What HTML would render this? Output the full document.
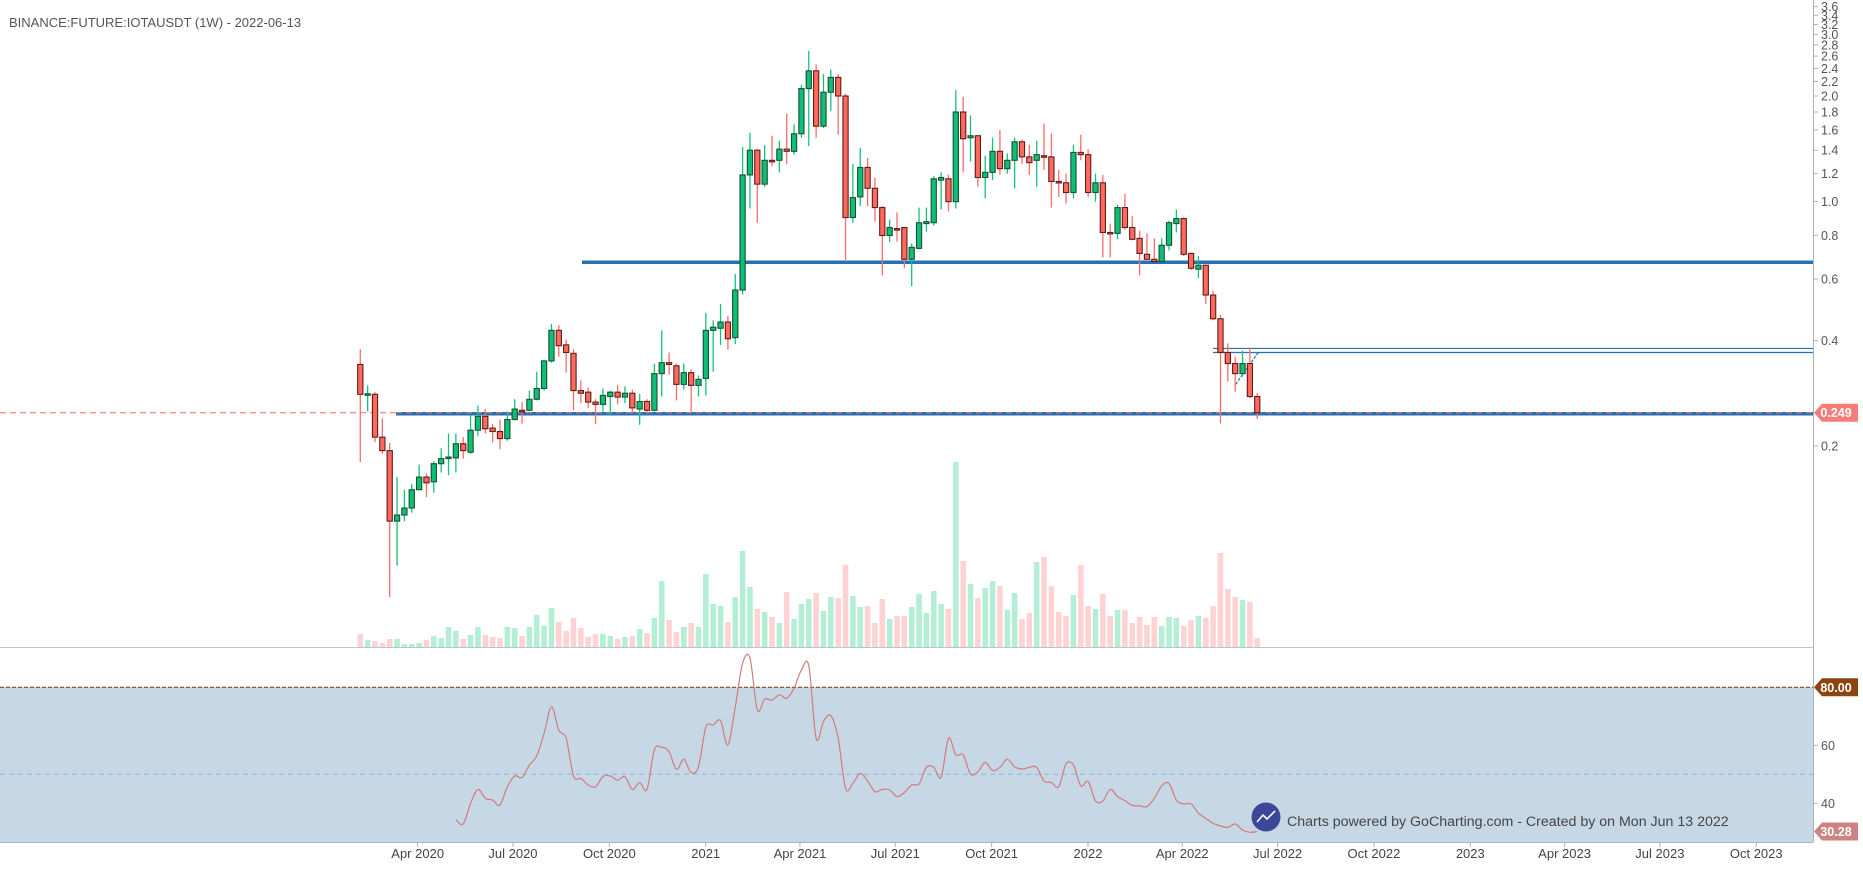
<!DOCTYPE html>
<html><head><meta charset="utf-8"><style>
html,body{margin:0;padding:0;background:#fff;}
svg{display:block;font-family:"Liberation Sans",sans-serif;}
</style></head><body>
<svg id="chart" width="1863" height="876" viewBox="0 0 1863 876" xmlns="http://www.w3.org/2000/svg">
<rect x="0" y="0" width="1863" height="876" fill="#fff"/>
<text x="9" y="27" font-size="13" fill="#555">BINANCE:FUTURE:IOTAUSDT (1W) - 2022-06-13</text>
<rect x="0" y="687" width="1813" height="155" fill="#c6d7e6"/>
<g id="grid"></g>
<g id="vol"></g>
<g id="lines"></g>
<g id="candles"></g>
<g id="rsi"></g>
<g id="axes"></g>
</svg>
<script>
const opens=[.342,.280,.281,.212,.194,.122,.127,.133,.150,.163,
.158,.178,.185,.185,.203,.192,.222,.243,.225,.220,
.210,.238,.253,.253,.272,.292,.350,.428,.389,.368,
.288,.285,.267,.263,.277,.285,.276,.283,.255,.268,
.253,.322,.346,.339,.300,.324,.298,.312,.428,.434,
.452,.408,.558,1.19,1.40,1.12,1.31,1.31,1.41,1.39,
1.56,2.10,2.36,1.64,2.05,2.26,2.00,.899,1.03,1.25,
1.09,.960,.799,.836,.842,.683,.734,.864,.869,1.15,
1.16,.998,1.80,1.52,1.54,1.17,1.21,1.39,1.24,1.31,
1.48,1.34,1.31,1.35,1.34,1.14,1.13,1.06,1.38,1.36,
1.06,1.13,.815,.810,.960,.842,.784,.706,.683,.673,
.749,.864,.893,.710,.640,.657,.540,.462,.370,.344,
.322,.344,.277];
const highs=[.378,.298,.285,.240,.204,.163,.150,.156,.177,.167,
.181,.197,.217,.217,.212,.245,.261,.255,.231,.238,
.251,.272,.267,.288,.326,.352,.446,.443,.403,.378,
.308,.294,.272,.292,.288,.298,.296,.290,.281,.272,
.344,.428,.370,.344,.344,.331,.318,.480,.457,.509,
.471,.620,1.43,1.57,1.41,1.45,1.54,1.49,1.78,1.66,
2.15,2.69,2.46,2.31,2.38,2.31,2.03,1.28,1.42,1.33,
1.17,.970,.887,.929,.842,.758,.960,.960,1.18,1.21,
1.19,2.08,1.99,1.76,1.54,1.35,1.52,1.60,1.37,1.52,
1.50,1.45,1.49,1.67,1.56,1.23,1.20,1.45,1.55,1.41,
1.20,1.19,.864,.979,1.05,.910,.824,.810,.784,.784,
.880,.948,.899,.714,.697,.657,.555,.474,.393,.360,
.374,.382,.283];
const lows=[.180,.251,.205,.190,.074,.091,.122,.129,.150,.143,
.147,.168,.165,.168,.184,.190,.214,.217,.205,.196,
.207,.237,.232,.251,.270,.288,.346,.360,.324,.253,
.265,.257,.231,.251,.245,.263,.265,.248,.230,.248,
.251,.277,.320,.270,.290,.248,.277,.279,.326,.389,
.377,.391,.542,.954,.869,1.10,1.26,1.21,1.28,1.36,
1.52,1.44,1.52,1.62,1.81,1.55,.673,.869,.970,.970,
.875,.615,.764,.768,.644,.573,.729,.820,.853,.948,
.935,.954,1.21,1.30,1.10,1.02,1.15,1.19,1.20,1.09,
1.28,1.19,1.10,1.23,.960,1.03,.986,1.02,1.31,1.03,
.998,.692,.692,.779,.830,.774,.615,.683,.673,.673,
.724,.815,.697,.636,.603,.509,.457,.232,.306,.286,
.316,.274,.239];
const closes=[.281,.282,.212,.194,.122,.127,.133,.150,.163,.157,
.178,.184,.186,.203,.194,.222,.243,.224,.220,.210,
.238,.255,.251,.272,.292,.350,.428,.387,.370,.288,
.283,.267,.263,.279,.285,.276,.283,.257,.268,.253,
.322,.346,.342,.300,.324,.298,.310,.428,.437,.452,
.405,.558,1.19,1.40,1.12,1.31,1.30,1.41,1.39,1.56,
2.10,2.36,1.64,2.05,2.26,2.00,.899,1.025,1.25,1.09,
.960,.799,.842,.830,.683,.739,.869,.875,1.16,1.17,
.998,1.80,1.51,1.54,1.17,1.21,1.39,1.24,1.31,1.48,
1.34,1.29,1.36,1.34,1.14,1.13,1.06,1.38,1.36,1.06,
1.13,.815,.810,.960,.842,.779,.710,.683,.673,.749,
.869,.893,.706,.644,.657,.540,.462,.370,.344,.322,
.344,.277,.249];
const volumes=[13,7,6,4,8,8,3,3,4,7,11,9,20,16,8,12,20,12,10,9,
20,19,11,20,32,21,39,25,16,29,19,10,13,13,11,8,10,11,18,14,
29,66,27,15,20,24,20,73,43,41,25,50,96,60,38,35,30,24,55,28,
43,48,54,36,50,49,82,51,40,41,24,48,28,31,31,40,53,34,56,43,
38,185,86,63,49,59,66,61,37,54,28,34,85,90,61,35,31,52,82,41,
38,53,31,37,37,24,30,22,30,21,30,29,21,27,31,29,41,94,58,50,
47,45,9];
const rsiStart=13;
const rsiValues=[34.3,32.9,40,44.8,41.7,41.1,39.4,45.7,49.4,48.9,
53.2,56.3,64.1,73.3,65.2,62.4,49.4,48.6,46.3,45.7,
49.2,49.4,48,49.2,44.8,47.1,44.8,58.4,59.3,57.8,
51.7,55.2,50.6,52.6,66.2,67,68.5,60.1,73.3,88.3,
90,72.2,75.9,75.6,77.4,76.2,79.7,86,87.4,62.4,
68.2,70.2,62.4,45.2,46.9,50.3,47.7,44,44.8,44.6,
42.3,43.7,46.3,46.7,52.4,52.4,49,62.4,56.7,56.7,
50.1,50.9,54.1,51.3,52.4,55.2,52.6,51.8,52.4,52.4,
47.7,47.2,45.7,53.6,53.2,46,47.5,40.8,40.8,44.8,
42.3,40.9,39.3,39.1,38.9,41.7,46,46.9,41.1,39.8,
39.8,36.6,34.8,33.1,32.2,31.7,32.9,30.8,30.0,30.28];
const priceTicks=[0.2,0.4,0.6,0.8,1.0,1.2,1.4,1.6,1.8,2.0,2.2,2.4,2.6,2.8,3.0,3.2,3.4,3.6];
const rsiTicks=[60,40];
const dateLabels=["Apr 2020","Jul 2020","Oct 2020","2021","Apr 2021","Jul 2021","Oct 2021","2022","Apr 2022","Jul 2022","Oct 2022","2023","Apr 2023","Jul 2023","Oct 2023"];
const dateOffsets=[-275,-184,-92,0,90,181,273,365,455,546,638,730,820,911,1003];
const supportLevels=[0.67,0.249];
const rangeLevels=[0.38,0.37];
const lastPrice=0.249, lastRsi=30.28;

const NS="http://www.w3.org/2000/svg";
const AX=1813;
const xScale=i=>360.3+i*7.352;
const xDate=d=>705.7+d*1.0474;
const yP=p=>446-152*Math.log(p/0.2);
const yV=v=>647-v*1.0;
const yR=v=>774.3-(v-50)*2.9;
function mk(tag,attrs,parent){const e=document.createElementNS(NS,tag);for(const k in attrs)e.setAttribute(k,attrs[k]);document.getElementById(parent).appendChild(e);return e;}

let sep=mk('line',{x1:0,x2:AX,y1:647.5,y2:647.5,stroke:'#b8c4cf','stroke-width':1},'grid');


let l80=mk('line',{x1:0,x2:AX,y1:yR(80),y2:yR(80),stroke:'#8b4a12','stroke-width':1.2,'stroke-dasharray':'4,2'},'grid');


let l50=mk('line',{x1:0,x2:AX,y1:yR(50),y2:yR(50),stroke:'#8ab4dd','stroke-width':1,'stroke-dasharray':'5,4'},'grid');



volumes.forEach((v,i)=>{
  const up=closes[i]>=opens[i];
  const r=mk('rect',{x:xScale(i)-2.8,y:yV(v),width:5.6,height:647-yV(v),fill:up?'#b5eed6':'#ffd3d3'},'vol');
  
  
});

let rd=mk('line',{x1:0,x2:AX,y1:yP(lastPrice),y2:yP(lastPrice),stroke:'#ff6b6b','stroke-width':1,'stroke-dasharray':'6,4'},'lines');


let s1=mk('line',{x1:582,x2:AX,y1:yP(supportLevels[0]),y2:yP(supportLevels[0]),stroke:'#2372b5','stroke-width':3.5},'lines');


let s2=mk('line',{x1:396,x2:AX,y1:yP(supportLevels[1])+1,y2:yP(supportLevels[1])+1,stroke:'#2372b5','stroke-width':3.5},'lines');


rangeLevels.forEach(p=>{
  const l=mk('line',{x1:1213,x2:AX,y1:yP(p),y2:yP(p),stroke:'#2a6fae','stroke-width':1.2},'lines');
  
  
});
let dg=mk('line',{x1:xScale(119)+0.5,y1:yP(0.300),x2:xScale(122)+1,y2:yP(0.37),stroke:'#2a6fae','stroke-width':1.2,'stroke-dasharray':'3,1.5'},'lines');


let rd2=mk('line',{x1:396,x2:AX,y1:yP(lastPrice),y2:yP(lastPrice),stroke:'#ff7070','stroke-width':1,'stroke-dasharray':'6,4'},'lines');



opens.forEach((o,i)=>{
  const c=closes[i],h=highs[i],l=lows[i],up=c>=o,x=xScale(i);
  const w=mk('line',{x1:x,x2:x,y1:yP(h),y2:yP(l),stroke:up?'#10c47a':'#ff6b6b','stroke-width':1.3},'candles');
  
  
  const t=Math.min(yP(o),yP(c)),b=Math.max(yP(o),yP(c));
  const bh=Math.max(b-t,1.5);
  const r=mk('rect',{x:x-2.6,y:t,width:5.2,height:bh,fill:up?'#0cc075':'#ff6a5c',stroke:up?'#1b4f33':'#5e1c1c','stroke-width':1.1},'candles');
  
  
});

// rsi smoothed (Catmull-Rom)
const P=rsiValues.map((v,k)=>[xScale(rsiStart+k),yR(v)]);
let d='M'+P[0][0].toFixed(1)+','+P[0][1].toFixed(1);
for(let k=0;k<P.length-1;k++){
  const p0=P[Math.max(k-1,0)],p1=P[k],p2=P[k+1],p3=P[Math.min(k+2,P.length-1)];
  const c1=[p1[0]+(p2[0]-p0[0])/6,p1[1]+(p2[1]-p0[1])/6];
  const c2=[p2[0]-(p3[0]-p1[0])/6,p2[1]-(p3[1]-p1[1])/6];
  d+=' C'+c1[0].toFixed(1)+','+c1[1].toFixed(1)+' '+c2[0].toFixed(1)+','+c2[1].toFixed(1)+' '+p2[0].toFixed(1)+','+p2[1].toFixed(1);
}
let rl=mk('path',{d:d,fill:'none',stroke:'#d47b7b','stroke-width':1.2},'rsi');



let ay=mk('line',{x1:AX+0.5,x2:AX+0.5,y1:0,y2:842,stroke:'#a9b3bd','stroke-width':1},'axes');


let ax=mk('line',{x1:0,x2:AX,y1:842.5,y2:842.5,stroke:'#a9b3bd','stroke-width':1},'axes');


priceTicks.forEach(p=>{
  const y=yP(p);
  const t=mk('line',{x1:AX,x2:AX+5,y1:y,y2:y,stroke:'#a9b3bd'},'axes');
  
  
  const tx=mk('text',{x:AX+8,y:y+4.5,'font-size':12.5,fill:'#555'},'axes');
  tx.textContent=p.toFixed(1);
  
  
});
rsiTicks.forEach(v=>{
  const y=yR(v);
  const t=mk('line',{x1:AX,x2:AX+5,y1:y,y2:y,stroke:'#a9b3bd'},'axes');
  
  
  const tx=mk('text',{x:AX+8,y:y+4.5,'font-size':12.5,fill:'#555'},'axes');
  tx.textContent=v;
  
  
});
dateLabels.forEach((lab,k)=>{
  const x=xDate(dateOffsets[k]);
  const t=mk('line',{x1:x,x2:x,y1:842,y2:847,stroke:'#a9b3bd'},'axes');
  
  
  const tx=mk('text',{x:x,y:858,'font-size':13,fill:'#444','text-anchor':'middle'},'axes');
  tx.textContent=lab;
  
  
});
function badge(y,txt,color,name){
  const g=mk('g',{},'axes');
  
  
  const p=document.createElementNS(NS,'path');
  p.setAttribute('d',`M${AX+1},${y} L${AX+9},${y-9} L1858,${y-9} L1858,${y+9} L${AX+9},${y+9} Z`);
  p.setAttribute('fill',color);g.appendChild(p);
  const t=document.createElementNS(NS,'text');
  t.setAttribute('x',1836);t.setAttribute('y',y+4.5);t.setAttribute('font-size',12.5);
  t.setAttribute('font-weight','bold');t.setAttribute('fill','#fff');t.setAttribute('text-anchor','middle');
  t.textContent=txt;g.appendChild(t);
}
badge(yP(lastPrice),lastPrice.toFixed(3),'#f77b78','last-price-badge');
badge(yR(80),'80.00','#8b4510','rsi-80-badge');
badge(yR(lastRsi),lastRsi.toFixed(2),'#cc8383','rsi-value-badge');

let lg=mk('circle',{cx:1266,cy:817,r:14.5,fill:'#3b4899'},'axes');


let lp=mk('polyline',{points:'1257,822 1263,815 1267,819 1275,811',fill:'none',stroke:'#fff','stroke-width':1.6},'axes');


let wt=mk('text',{x:1287,y:826,'font-size':14.2,fill:'#454545'},'axes');
wt.textContent='Charts powered by GoCharting.com - Created by  on Mon Jun 13 2022';


</script>
</body></html>
